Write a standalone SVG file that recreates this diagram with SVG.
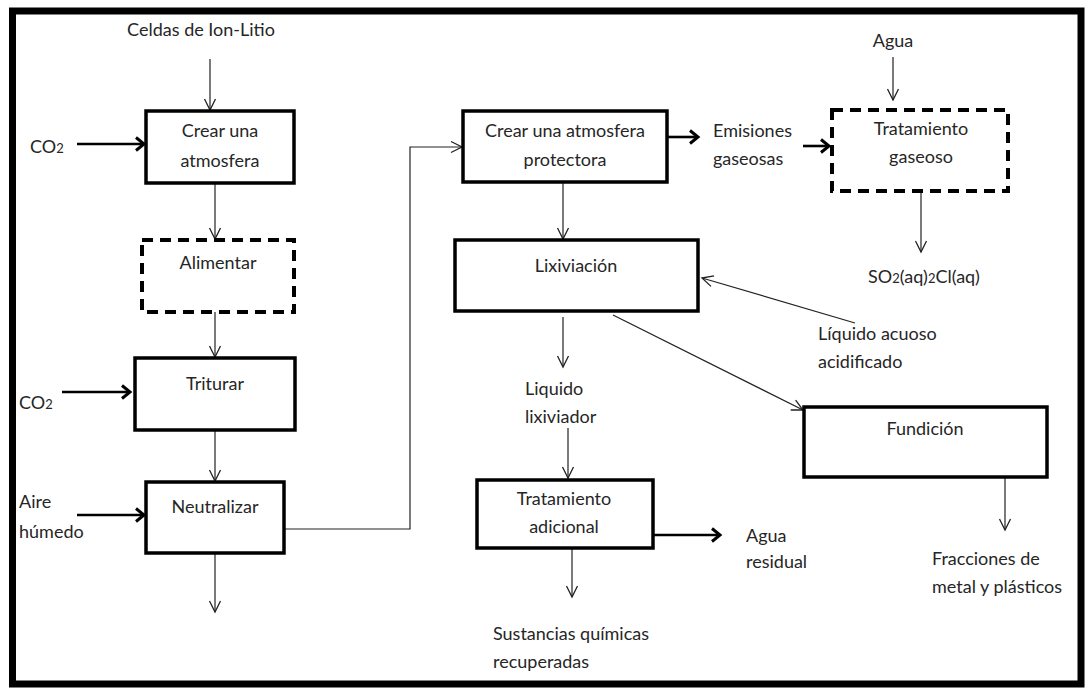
<svg xmlns="http://www.w3.org/2000/svg" width="1086" height="688" viewBox="0 0 1086 688">
  <style>
    text { font-family: Lato, "Open Sans", "Liberation Sans", sans-serif; font-size: 18px; fill: #262626; }
    .mid { text-anchor: middle; }
    .sub { font-size: 13px; }
    .box { fill: #ffffff; stroke: #000000; stroke-width: 3.5; }
    .dash { fill: #ffffff; stroke: #000000; stroke-width: 4; stroke-dasharray: 11 7; }
    .thin { fill: none; stroke: #222222; stroke-width: 1.2; marker-end: url(#tip); }
    .thick { fill: none; stroke: #000000; stroke-width: 2.6; marker-end: url(#tipBold); }
  </style>
  <defs>
    <marker id="tip" markerUnits="userSpaceOnUse" markerWidth="16" markerHeight="16" viewBox="-13 -8 16 16" refX="0" refY="0" orient="auto">
      <path d="M-11,-5.5 L0,0 L-11,5.5" fill="none" stroke="#222222" stroke-width="1.3"/>
    </marker>
    <marker id="tipBold" markerUnits="userSpaceOnUse" markerWidth="16" markerHeight="16" viewBox="-12 -8 16 16" refX="0" refY="0" orient="auto">
      <path d="M-8,-6.5 L0,0 L-8,6.5" fill="none" stroke="#000000" stroke-width="3"/>
    </marker>
  </defs>

  <rect width="1086" height="688" fill="#ffffff"/>
  <!-- frame -->
  <rect x="12.5" y="11" width="1068.5" height="673" fill="none" stroke="#000000" stroke-width="7"/>

  <!-- connectors -->
  <g id="connectors">
    <line class="thin" x1="210" y1="59" x2="210" y2="110"/>
    <line class="thick" x1="77" y1="144" x2="144" y2="144"/>
    <line class="thin" x1="215" y1="183" x2="215" y2="239"/>
    <line class="thin" x1="215" y1="312" x2="215" y2="357"/>
    <line class="thick" x1="62" y1="392" x2="130" y2="392"/>
    <line class="thin" x1="215" y1="430" x2="215" y2="481"/>
    <line class="thick" x1="77" y1="515" x2="144" y2="515"/>
    <line class="thin" x1="215" y1="553" x2="215" y2="612"/>
    <polyline class="thin" points="284,529 410,529 410,147 462,147"/>
    <line class="thick" x1="667" y1="137" x2="698" y2="137"/>
    <line class="thick" x1="803" y1="146" x2="829" y2="146"/>
    <line class="thin" x1="893" y1="57" x2="893" y2="100"/>
    <line class="thin" x1="921" y1="191" x2="921" y2="252"/>
    <line class="thin" x1="563" y1="182" x2="563" y2="239"/>
    <line class="thin" x1="855" y1="323" x2="702" y2="278"/>
    <line class="thin" x1="613" y1="315" x2="803" y2="410"/>
    <line class="thin" x1="1005" y1="477" x2="1005" y2="530"/>
    <line class="thin" x1="563" y1="317" x2="563" y2="367"/>
    <line class="thin" x1="568" y1="428" x2="568" y2="478"/>
    <line class="thick" x1="653" y1="535" x2="720" y2="535"/>
    <line class="thin" x1="572" y1="548" x2="572" y2="597"/>
  </g>

  <!-- process steps -->
  <g id="crear-atmosfera">
    <rect class="box" x="146" y="111" width="148" height="72"/>
    <text class="mid" x="220" y="137">Crear una</text>
    <text class="mid" x="220" y="167">atmosfera</text>
  </g>
  <g id="alimentar">
    <rect class="dash" x="142" y="240" width="152" height="72"/>
    <text class="mid" x="218" y="269">Alimentar</text>
  </g>
  <g id="triturar">
    <rect class="box" x="135" y="358" width="160" height="72"/>
    <text class="mid" x="215" y="390">Triturar</text>
  </g>
  <g id="neutralizar">
    <rect class="box" x="146" y="482" width="138" height="71"/>
    <text class="mid" x="215" y="513">Neutralizar</text>
  </g>
  <g id="atmosfera-protectora">
    <rect class="box" x="463" y="111" width="204" height="71"/>
    <text class="mid" x="565" y="137">Crear una atmosfera</text>
    <text class="mid" x="565" y="166">protectora</text>
  </g>
  <g id="tratamiento-gaseoso">
    <rect class="dash" x="832" y="110" width="176" height="81"/>
    <text class="mid" x="921" y="135">Tratamiento</text>
    <text class="mid" x="921" y="163">gaseoso</text>
  </g>
  <g id="lixiviacion">
    <rect class="box" x="455" y="240" width="243" height="71"/>
    <text class="mid" x="576" y="272">Lixiviación</text>
  </g>
  <g id="fundicion">
    <rect class="box" x="804" y="407" width="243" height="70"/>
    <text class="mid" x="925" y="435">Fundición</text>
  </g>
  <g id="tratamiento-adicional">
    <rect class="box" x="477" y="480" width="176" height="68"/>
    <text class="mid" x="564" y="505">Tratamiento</text>
    <text class="mid" x="564" y="533">adicional</text>
  </g>

  <!-- stream labels -->
  <g id="celdas">
    <text class="mid" x="201" y="36">Celdas de Ion-Litio</text>
  </g>
  <g id="co2-a">
    <text x="30" y="153">CO<tspan class="sub">2</tspan></text>
  </g>
  <g id="co2-b">
    <text x="19" y="409">CO<tspan class="sub">2</tspan></text>
  </g>
  <g id="aire-humedo">
    <text x="19" y="508">Aire</text>
    <text x="19" y="538">húmedo</text>
  </g>
  <g id="emisiones">
    <text x="713" y="137">Emisiones</text>
    <text x="713" y="165">gaseosas</text>
  </g>
  <g id="agua-entrada">
    <text class="mid" x="893" y="47">Agua</text>
  </g>
  <g id="so2">
    <text x="868" y="283">SO<tspan class="sub">2</tspan>(aq)<tspan class="sub">2</tspan>Cl(aq)</text>
  </g>
  <g id="liquido-acuoso">
    <text x="818" y="340">Líquido acuoso</text>
    <text x="818" y="368">acidificado</text>
  </g>
  <g id="liquido-lixiviador">
    <text x="525" y="395">Liquido</text>
    <text x="525" y="423">lixiviador</text>
  </g>
  <g id="agua-residual">
    <text x="746" y="542">Agua</text>
    <text x="746" y="568">residual</text>
  </g>
  <g id="sustancias">
    <text x="493" y="640">Sustancias químicas</text>
    <text x="493" y="668">recuperadas</text>
  </g>
  <g id="fracciones">
    <text x="932" y="565">Fracciones de</text>
    <text x="932" y="593">metal y plásticos</text>
  </g>
</svg>
